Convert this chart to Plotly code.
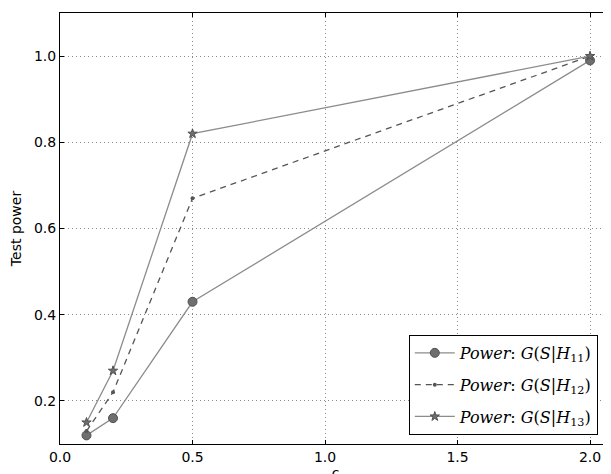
import plotly.graph_objects as go

c_vals = [0.1, 0.2, 0.5, 2.0]
power_h11 = [0.12, 0.16, 0.43, 0.99]
power_h12 = [0.13, 0.22, 0.67, 1.00]
power_h13 = [0.15, 0.27, 0.82, 1.00]

names = [
    "<i>Power</i>: <i>G</i>(<i>S</i>|<i>H</i><sub>11</sub>)",
    "<i>Power</i>: <i>G</i>(<i>S</i>|<i>H</i><sub>12</sub>)",
    "<i>Power</i>: <i>G</i>(<i>S</i>|<i>H</i><sub>13</sub>)",
]

fig = go.Figure()
fig.add_trace(go.Scatter(
    x=c_vals, y=power_h11, mode="lines+markers", name=names[0], legendgroup="a",
    line=dict(color="#8c8c8c", width=1.3),
    marker=dict(symbol="circle", size=9, color="#6e6e6e", line=dict(color="#505050", width=1)),
))
fig.add_trace(go.Scatter(
    x=c_vals, y=power_h12, mode="lines+markers", name=names[1], legendgroup="b",
    line=dict(color="#555555", width=1.3, dash="6px,5px"),
    marker=dict(symbol="circle", size=4, color="#555555"),
))
fig.add_trace(go.Scatter(
    x=c_vals, y=power_h13, mode="lines+markers", name=names[2], legendgroup="c",
    line=dict(color="#8c8c8c", width=1.3),
    marker=dict(symbol="star", size=7, color="#6e6e6e", line=dict(color="#505050", width=1)),
))

axis_common = dict(
    showgrid=True, gridcolor="#8a8a8a", griddash="1px,3px", gridwidth=1,
    showline=True, linecolor="black", linewidth=1, mirror="allticks",
    ticks="inside", ticklen=4, tickcolor="black", zeroline=False, automargin=False,
    tickfont=dict(family="DejaVu Sans", size=14, color="black"),
)

fig.update_layout(
    width=611, height=474,
    margin=dict(l=52, r=8, t=5, b=38),
    paper_bgcolor="white", plot_bgcolor="white",
    xaxis=dict(range=[0, 2.079], tickvals=[0, 0.5, 1.0, 1.5, 2.0],
               ticktext=["0.0", "0.5", "1.0", "1.5", "2.0"],
               title=dict(text="c", font=dict(family="DejaVu Sans", size=14, color="black"), standoff=2),
               **axis_common),
    yaxis=dict(range=[0.1, 1.1], tickvals=[0.2, 0.4, 0.6, 0.8, 1.0],
               ticktext=["0.2", "0.4", "0.6", "0.8", "1.0"],
               title=dict(text="Test power", font=dict(family="DejaVu Sans", size=14, color="black"), standoff=10),
               **axis_common),
    legend=dict(x=0.633, y=0.021, xanchor="left", yanchor="bottom",
                bgcolor="white", bordercolor="black", borderwidth=1,
                font=dict(family="DejaVu Serif", size=16, color="black"),
                tracegroupgap=8, itemwidth=40),
    showlegend=True,
)

fig.write_html("out.html")
